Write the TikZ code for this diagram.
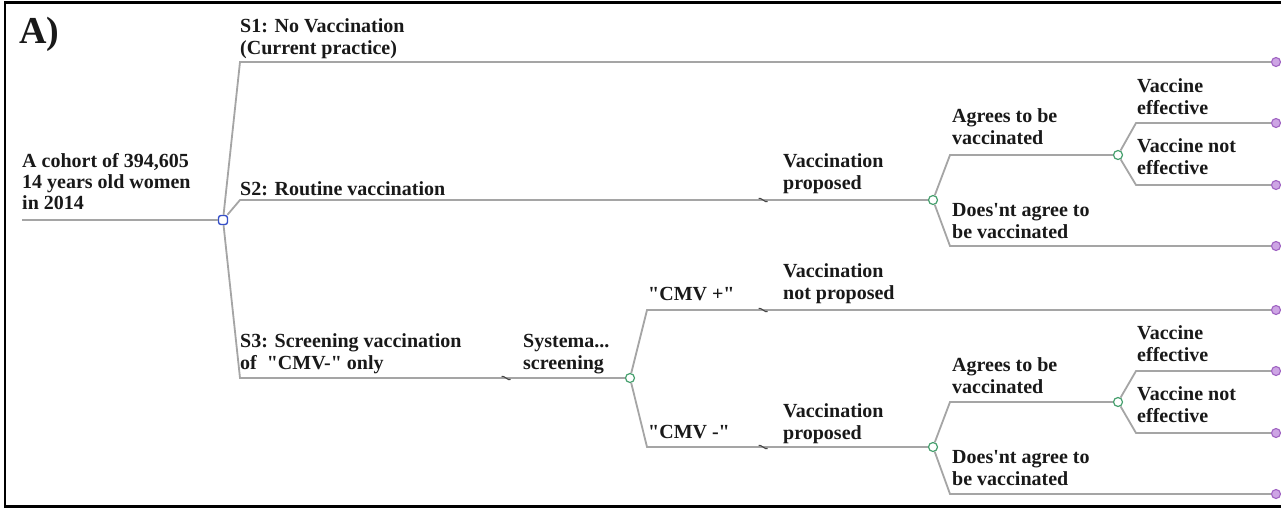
\documentclass[tikz,border=0pt]{standalone}
\usepackage{fontspec}
\setmainfont{Liberation Serif}
\definecolor{linegray}{RGB}{165,165,165}
\definecolor{txt}{RGB}{25,25,25}
\definecolor{chg}{RGB}{70,160,110}
\definecolor{trm}{RGB}{160,100,195}
\definecolor{trmf}{RGB}{205,165,228}
\definecolor{decb}{RGB}{55,80,200}
\definecolor{tildc}{RGB}{70,70,70}
\newcommand\twoln[2]{\vtop{\hbox{#1}\hbox{#2}}}
\newcommand\threeln[3]{\vtop{\hbox{#1}\hbox{#2}\hbox{#3}}}
\newcommand\qd{\textquotedbl}
\newcommand\brkmark[2]{\draw[tildc,line width=1.1pt] (#1-4.5,#2-1.5) .. controls (#1-2,#2-3) and (#1+2,#2+3) .. (#1+4.5,#2+1.5);}
\begin{document}
\begin{tikzpicture}[x=1pt,y=-1pt,
  br/.style={draw=linegray, line width=1.8pt},
  lbl/.style={anchor=base west, inner sep=0pt, font=\fontsize{20}{22.5}\selectfont\bfseries, text=txt},
  chance/.style={circle, draw=chg, fill=white, line width=1.2pt, minimum size=9pt, inner sep=0pt},
  term/.style={circle, draw=trm, fill=trmf, line width=1.1pt, minimum size=9pt, inner sep=0pt},
  dec/.style={rectangle, rounded corners=2.5pt, draw=decb, fill=white, line width=1.4pt, minimum size=9pt, inner sep=0pt},
]
\useasboundingbox (0,0) rectangle (1281,509);
\fill[white] (0,0) rectangle (1281,509);
\draw[black,line width=2.6pt] (1281,2.5) -- (5,2.5) -- (5,506.5) -- (1281,506.5);

% nodes
\coordinate (r0) at (22,220);
\node[dec] (d0) at (223,220) {};
\node[chance] (n1) at (933,200) {};
\node[chance] (n2) at (1118,155) {};
\node[chance] (n3) at (630,378) {};
\node[chance] (n4) at (933,447) {};
\node[chance] (n5) at (1118,402) {};
\node[term] (t1) at (1276,62) {};
\node[term] (t2) at (1276,123) {};
\node[term] (t3) at (1276,185) {};
\node[term] (t4) at (1276,246) {};
\node[term] (t5) at (1276,310) {};
\node[term] (t6) at (1276,371) {};
\node[term] (t7) at (1276,433) {};
\node[term] (t8) at (1276,494) {};

% corners
\coordinate (c1) at (240,62);
\coordinate (c2) at (240,200);
\coordinate (c3) at (240,378);
\coordinate (a1) at (950,155);
\coordinate (a2) at (950,246);
\coordinate (e1) at (1136,123);
\coordinate (e2) at (1136,185);
\coordinate (p1) at (647,310);
\coordinate (p2) at (647,447);
\coordinate (a3) at (950,402);
\coordinate (a4) at (950,494);
\coordinate (e3) at (1136,371);
\coordinate (e4) at (1136,433);

% connectors
\draw[br] (r0) -- (d0);
\draw[br] (d0) -- (c1) -- (t1);
\draw[br] (d0) -- (c2) -- (n1);
\draw[br] (d0) -- (c3) -- (n3);
\draw[br] (n1) -- (a1) -- (n2);
\draw[br] (n1) -- (a2) -- (t4);
\draw[br] (n2) -- (e1) -- (t2);
\draw[br] (n2) -- (e2) -- (t3);
\draw[br] (n3) -- (p1) -- (t5);
\draw[br] (n3) -- (p2) -- (n4);
\draw[br] (n4) -- (a3) -- (n5);
\draw[br] (n4) -- (a4) -- (t8);
\draw[br] (n5) -- (e3) -- (t6);
\draw[br] (n5) -- (e4) -- (t7);

% break marks
\brkmark{763}{200}
\brkmark{506}{378}
\brkmark{763}{310}
\brkmark{763}{447}

% labels
\node[lbl, font=\fontsize{38}{40}\selectfont\bfseries] (lA) at (19,43) {A)};
\node[lbl, font=\fontsize{20}{21}\selectfont\bfseries] (lroot) at (22,167) {\threeln{A cohort of 394,605}{14 years old women}{in 2014}};
\node[lbl] (ls1) at (240,32) {\twoln{S1: No Vaccination}{(Current practice)}};
\node[lbl] (ls2) at (240,195) {S2: Routine vaccination};
\node[lbl] (ls3) at (240,347) {\twoln{S3: Screening vaccination}{of\ \ \qd CMV-\qd\ only}};
\node[lbl] (lsys) at (523,347) {\twoln{Systema...}{screening}};
\node[lbl] (lcp) at (648,300) {\qd CMV +\qd};
\node[lbl] (lcm) at (648,438) {\qd CMV -\qd};
\node[lbl] (lvnp) at (783,277) {\twoln{Vaccination}{not proposed}};
\node[lbl] (lvp1) at (783,167) {\twoln{Vaccination}{proposed}};
\node[lbl] (lvp2) at (783,417) {\twoln{Vaccination}{proposed}};
\node[lbl] (lag1) at (952,122) {\twoln{Agrees to be}{vaccinated}};
\node[lbl] (lna1) at (952,216) {\twoln{Does\textquotesingle nt agree to}{be vaccinated}};
\node[lbl] (lag2) at (952,371) {\twoln{Agrees to be}{vaccinated}};
\node[lbl] (lna2) at (952,463) {\twoln{Does\textquotesingle nt agree to}{be vaccinated}};
\node[lbl] (lve1) at (1137,92) {\twoln{Vaccine}{effective}};
\node[lbl] (lvn1) at (1137,152) {\twoln{Vaccine not}{effective}};
\node[lbl] (lve2) at (1137,339) {\twoln{Vaccine}{effective}};
\node[lbl] (lvn2) at (1137,400) {\twoln{Vaccine not}{effective}};
\end{tikzpicture}
\end{document}
